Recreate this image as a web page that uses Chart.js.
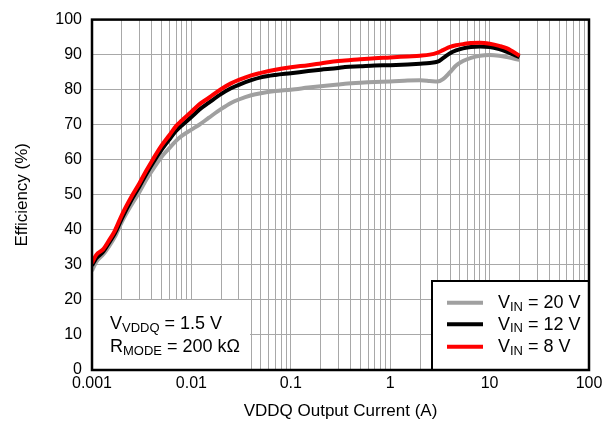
<!DOCTYPE html>
<html>
<head>
<meta charset="utf-8">
<script src="https://cdn.jsdelivr.net/npm/chart.js@4/dist/chart.umd.min.js"></script>
<style>
html,body{margin:0;padding:0;background:#fff;}
#wrap{width:607px;height:424px;}
</style>
</head>
<body>
<div id="wrap"><canvas id="c" width="607" height="424"></canvas></div>
<script>
// ---- data ----
const currents = [0.001,0.0011,0.0013,0.0015,0.0017,0.002,0.0025,0.003,0.0035,0.004,0.005,0.006,0.007,0.008,0.01,0.012,0.015,0.02,0.025,0.03,0.04,0.05,0.07,0.1,0.15,0.2,0.3,0.35,0.5,0.7,1,1.5,2,2.5,3,3.4,4,4.6,5.4,6.5,8,10,12.5,15,20];
const effVin8 = [30.5,32.8,34.5,37.2,39.8,44.3,49.5,53.3,56.8,59.6,64.0,67.0,69.6,71.2,73.7,75.8,77.7,80.2,81.8,82.8,84.1,84.8,85.7,86.4,87.0,87.5,88.2,88.3,88.7,89.0,89.2,89.5,89.7,90.0,90.6,91.3,92.2,92.7,93.0,93.3,93.4,93.1,92.5,91.8,89.7];
const effVin12 = [29.8,31.8,33.8,36.5,39.0,43.3,48.6,52.4,55.8,58.6,62.8,65.8,68.2,69.8,72.2,74.3,76.3,78.8,80.4,81.4,82.7,83.5,84.2,84.7,85.3,85.7,86.2,86.5,86.7,86.9,87.0,87.2,87.4,87.6,88.0,89.0,90.4,91.2,91.8,92.2,92.3,92.2,91.6,90.8,89.3];
const effVin20 = [28.3,30.8,33.0,35.5,38.0,42.3,47.2,50.8,54.2,56.8,60.8,63.3,65.4,66.8,68.6,70.0,72.0,74.5,76.2,77.2,78.4,79.0,79.6,80.0,80.6,81.0,81.5,81.7,82.0,82.2,82.3,82.6,82.7,82.5,82.3,83.0,85.0,86.9,88.2,89.1,89.7,89.9,89.7,89.3,88.5];
const seriesNames = ['20 V','12 V','8 V'];
const xTickLabels = ['0.001','0.01','0.1','1','10','100'];
const yTicks = [0,10,20,30,40,50,60,70,80,90,100];
const xTitle = 'VDDQ Output Current (A)';
const yTitle = 'Efficiency (%)';
const noteLine1 = ['V','VDDQ',' = 1.5 V'];
const noteLine2 = ['R','MODE',' = 200 kΩ'];

const FONT = "'Liberation Sans', Arial, sans-serif";
const colors = ['#a0a0a0','#000000','#ff0000'];

function pts(ys){ return currents.map((x,i)=>({x:x,y:ys[i]})); }

function subText(ctx, x, y, parts, big, small){
  ctx.font = big + 'px ' + FONT;
  ctx.fillText(parts[0], x, y);
  x += ctx.measureText(parts[0]).width;
  ctx.font = small + 'px ' + FONT;
  ctx.fillText(parts[1], x, y + 2.5);
  x += ctx.measureText(parts[1]).width;
  ctx.font = big + 'px ' + FONT;
  ctx.fillText(parts[2], x, y);
}

const decor = {
  id:'decor',
  afterDatasetsDraw(chart){
    const ctx = chart.ctx, a = chart.chartArea;
    ctx.save();
    // note box
    ctx.fillStyle = '#fff';
    ctx.fillRect(a.left, 300, 250 - a.left, a.bottom - 300);
    ctx.fillStyle = '#000';
    ctx.textBaseline = 'alphabetic';
    ctx.textAlign = 'left';
    subText(ctx, 110, 329, noteLine1, 18, 13);
    subText(ctx, 110, 352, noteLine2, 18, 13);
    // legend box
    const lx = 432, ly = 281;
    ctx.fillStyle = '#fff';
    ctx.fillRect(lx, ly, a.right - lx, a.bottom - ly);
    ctx.strokeStyle = '#000';
    ctx.lineWidth = 2;
    ctx.strokeRect(lx, ly, a.right - lx, a.bottom - ly);
    const rows = [302.7, 324.3, 346.7];
    rows.forEach((ry,i)=>{
      ctx.strokeStyle = colors[i];
      ctx.lineWidth = 4;
      ctx.beginPath();
      ctx.moveTo(447, ry); ctx.lineTo(483, ry);
      ctx.stroke();
      ctx.fillStyle = '#000';
      subText(ctx, 498, ry + 5.5, ['V','IN',' = ' + seriesNames[i]], 18, 13);
    });
    // plot border
    ctx.strokeStyle = '#000';
    ctx.lineWidth = 2.5;
    ctx.strokeRect(a.left, a.top, a.right - a.left, a.bottom - a.top);
    ctx.restore();
  }
};

new Chart(document.getElementById('c'), {
  type:'line',
  data:{
    datasets:[
      {label:'VIN = 20 V', data:pts(effVin20), borderColor:colors[0], order:3},
      {label:'VIN = 12 V', data:pts(effVin12), borderColor:colors[1], order:2},
      {label:'VIN = 8 V', data:pts(effVin8), borderColor:colors[2], order:1}
    ]
  },
  options:{
    responsive:false,
    animation:false,
    devicePixelRatio:1,
    layout:{padding:{left:0,top:16,right:18,bottom:0}},
    elements:{
      point:{radius:0},
      line:{borderWidth:4, tension:0.35, cubicInterpolationMode:'monotone', fill:false}
    },
    plugins:{legend:{display:false}, tooltip:{enabled:false}},
    scales:{
      x:{
        type:'logarithmic',
        min:0.001, max:100,
        afterFit(s){ s.height = 54; },
        afterBuildTicks(s){
          const t = [];
          for(let e=-3;e<2;e++){
            for(let k=1;k<10;k++){ t.push({value:Number((k*Math.pow(10,e)).toPrecision(3))}); }
          }
          t.push({value:100});
          s.ticks = t;
        },
        ticks:{
          autoSkip:false, maxRotation:0, padding:4, color:'#000',
          font:{family:FONT, size:16},
          callback(v){
            const l = Math.log10(v);
            if (Math.abs(l - Math.round(l)) < 1e-9) return xTickLabels[Math.round(l)+3];
            return '';
          }
        },
        grid:{color:'#a8a8a8', lineWidth:1, drawTicks:false},
        border:{display:false},
        title:{display:true, text:xTitle, color:'#000', font:{family:FONT, size:17}, padding:{top:0,bottom:2}}
      },
      y:{
        min:0, max:100,
        afterFit(s){ s.width = 92; },
        afterBuildTicks(s){ s.ticks = yTicks.map(v=>({value:v})); },
        ticks:{padding:10, color:'#000', font:{family:FONT, size:16}},
        grid:{color:'#a8a8a8', lineWidth:1, drawTicks:false},
        border:{display:false},
        title:{display:true, text:yTitle, color:'#000', font:{family:FONT, size:17}, padding:{top:12,bottom:0}}
      }
    }
  },
  plugins:[decor]
});
</script>
</body>
</html>
